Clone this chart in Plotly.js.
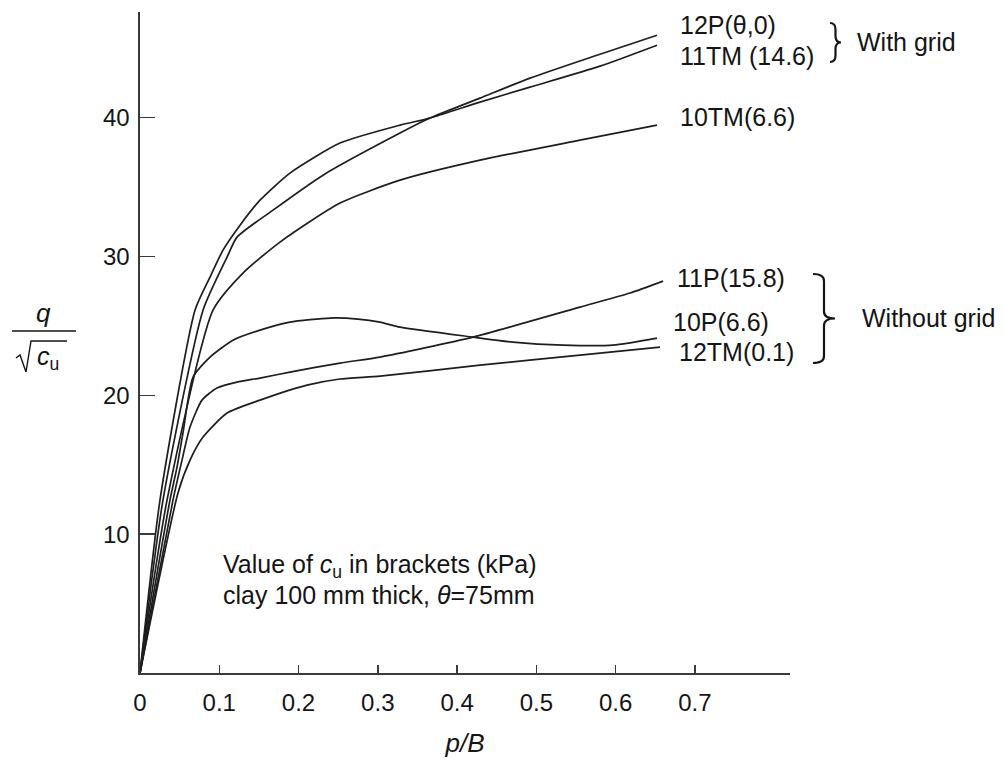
<!DOCTYPE html>
<html><head><meta charset="utf-8">
<script src="https://cdn.plot.ly/plotly-3.0.1.min.js"></script>
<style>html,body{margin:0;padding:0;background:#fff}#chart{width:1005px;height:773px}</style>
</head><body><div id="chart"></div>
<script>
// ---- data ----
const x_12P = [0, 0.029, 0.0795, 0.1098, 0.1224, 0.1678, 0.2309, 0.328, 0.3658, 0.4289, 0.492, 0.5765, 0.6522];
const y_12P = [0, 12.45, 26.13, 29.95, 31.39, 33.33, 35.85, 38.88, 39.96, 41.40, 42.84, 44.49, 45.93];

const x_11TM = [0, 0.0252, 0.0694, 0.0883, 0.1047, 0.1262, 0.1514, 0.1892, 0.2523, 0.328, 0.3658, 0.4289, 0.492, 0.5803, 0.6522];
const y_11TM = [0, 12.45, 26.13, 28.51, 30.45, 32.25, 34.05, 36.00, 38.16, 39.45, 39.96, 41.11, 42.19, 43.70, 45.21];

const x_10TM = [0, 0.0341, 0.0921, 0.1299, 0.1766, 0.2523, 0.328, 0.4289, 0.5551, 0.6522];
const y_10TM = [0, 12.45, 26.13, 28.80, 31.03, 33.84, 35.49, 36.93, 38.37, 39.45];

const x_11P = [0, 0.0416, 0.053, 0.0631, 0.0782, 0.0971, 0.1224, 0.1514, 0.1892, 0.2523, 0.3028, 0.4201, 0.5551, 0.6181, 0.6598];
const y_11P = [0, 12.45, 15.33, 17.71, 19.65, 20.52, 20.95, 21.24, 21.67, 22.32, 22.75, 24.19, 26.35, 27.36, 28.22];

const x_10P = [0, 0.0378, 0.0467, 0.0542, 0.0669, 0.0883, 0.1173, 0.1514, 0.1892, 0.2397, 0.275, 0.3028, 0.328, 0.4201, 0.4705, 0.5336, 0.5967, 0.6522];
const y_10P = [0, 12.45, 14.83, 17.28, 21.31, 22.75, 23.97, 24.69, 25.27, 25.56, 25.49, 25.27, 24.91, 24.19, 23.83, 23.61, 23.61, 24.12];

const x_12TM = [0, 0.0479, 0.0631, 0.0795, 0.1098, 0.1514, 0.2107, 0.2523, 0.3028, 0.4289, 0.5551, 0.656];
const y_12TM = [0, 12.96, 15.33, 16.99, 18.72, 19.65, 20.73, 21.17, 21.38, 22.17, 22.89, 23.47];

const xTickVals = [0, 0.1, 0.2, 0.3, 0.4, 0.5, 0.6, 0.7];
const xTickText = ['0', '0.1', '0.2', '0.3', '0.4', '0.5', '0.6', '0.7'];
const yTickVals = [10, 20, 30, 40];
const yTickText = ['10', '20', '30', '40'];

const seriesNames = ['12P(θ,0)', '11TM (14.6)', '10TM(6.6)', '11P(15.8)', '10P(6.6)', '12TM(0.1)'];
const groupNames = ['With grid', 'Without grid'];
const noteLines = ['Value of <i>c</i><sub>u</sub> in brackets (kPa)', 'clay 100 mm thick, <i>θ</i>=75mm'];

// ---- layout helpers (plot area: 140..790 px wide, 12..673 px high) ----
const L = 140, R = 790, T = 12, B = 673;
const px = v => (v - L) / (R - L);
const py = v => (B - v) / (B - T);

const FONT = 'Liberation Sans, Arial, Helvetica, sans-serif';
const INK = '#151515';
const FS = 25;
const lineStyle = {color: '#1e1e1e', width: 1.7, shape: 'spline', smoothing: 0.6};

const xs = [x_12P, x_11TM, x_10TM, x_11P, x_10P, x_12TM];
const ys = [y_12P, y_11TM, y_10TM, y_11P, y_10P, y_12TM];
const traces = xs.map((x, i) => ({
  x: x, y: ys[i], type: 'scatter', mode: 'lines', name: seriesNames[i],
  line: lineStyle, hoverinfo: 'skip', showlegend: false
}));

function label(text, xp, yp, size, extra) {
  return Object.assign({
    text: text, xref: 'paper', yref: 'paper', x: px(xp), y: py(yp),
    xanchor: 'left', yanchor: 'middle', showarrow: false,
    font: {family: FONT, size: size || FS, color: INK}
  }, extra || {});
}

function brace(x0, x1, yT, yB) {
  const xm = (x0 + x1) / 2, yM = (yT + yB) / 2, r = Math.min(7, (yB - yT) / 6);
  const P = (a, b) => px(a).toFixed(5) + ',' + py(b).toFixed(5);
  return {
    type: 'path', xref: 'paper', yref: 'paper',
    path: 'M' + P(x0, yT) + ' Q' + P(xm, yT) + ' ' + P(xm, yT + r) +
          ' L' + P(xm, yM - r) + ' Q' + P(xm, yM) + ' ' + P(x1, yM) +
          ' Q' + P(xm, yM) + ' ' + P(xm, yM + r) +
          ' L' + P(xm, yB - r) + ' Q' + P(xm, yB) + ' ' + P(x0, yB),
    line: {color: INK, width: 2.2}
  };
}

function polyPath(pts) {
  return pts.map((p, i) => (i ? 'L' : 'M') + px(p[0]).toFixed(5) + ',' + py(p[1]).toFixed(5)).join(' ');
}

const annotations = [
  label(seriesNames[0], 678, 25),
  label(seriesNames[1], 678, 56),
  label(groupNames[0], 855, 42),
  label(seriesNames[2], 678, 117),
  label(seriesNames[3], 675, 278),
  label(seriesNames[4], 671, 322),
  label(seriesNames[5], 677, 352),
  label(groupNames[1], 860, 318),
  label(noteLines[0], 221, 566),
  label(noteLines[1], 221, 595),
  label('<i>q</i>', 44, 313, 26, {xanchor: 'center'}),
  label('<i>c</i><sub>u</sub>', 48, 358, 25, {xanchor: 'center'})
];

const shapes = [
  brace(830, 841, 23, 62),
  brace(813, 835, 274, 363),
  // fraction bar of the y-axis label
  {type: 'line', xref: 'paper', yref: 'paper', x0: px(12), x1: px(76), y0: py(331), y1: py(331), line: {color: INK, width: 1.6}},
  // radical sign of the y-axis label
  {type: 'path', xref: 'paper', yref: 'paper', path: polyPath([[16, 358], [20, 355], [26, 372], [31, 341], [67, 341]]), line: {color: INK, width: 1.4}}
];

const axisCommon = {
  showgrid: false, zeroline: false, showline: true, linecolor: '#3a3a3a', linewidth: 1.6,
  ticks: 'inside', tickcolor: '#3a3a3a', tickwidth: 1.5,
  tickfont: {family: FONT, size: 24, color: INK}, fixedrange: true
};

const layout = {
  width: 1005, height: 773,
  margin: {l: L, r: 1005 - R, t: T, b: 773 - B},
  paper_bgcolor: '#fff', plot_bgcolor: '#fff',
  showlegend: false,
  xaxis: Object.assign({}, axisCommon, {
    range: [0, 0.82], tickmode: 'array', tickvals: xTickVals, ticktext: xTickText, ticklen: 8,
    ticklabelstandoff: 8,
    title: {text: '<i>p/B</i>', font: {family: FONT, size: 26, color: INK}, standoff: 18}
  }),
  yaxis: Object.assign({}, axisCommon, {
    range: [0, 47.6], tickmode: 'array', tickvals: yTickVals, ticktext: yTickText, ticklen: 15,
    ticklabelstandoff: 4
  }),
  annotations: annotations,
  shapes: shapes
};

Plotly.newPlot('chart', traces, layout, {displayModeBar: false, staticPlot: true});
</script>
</body></html>
